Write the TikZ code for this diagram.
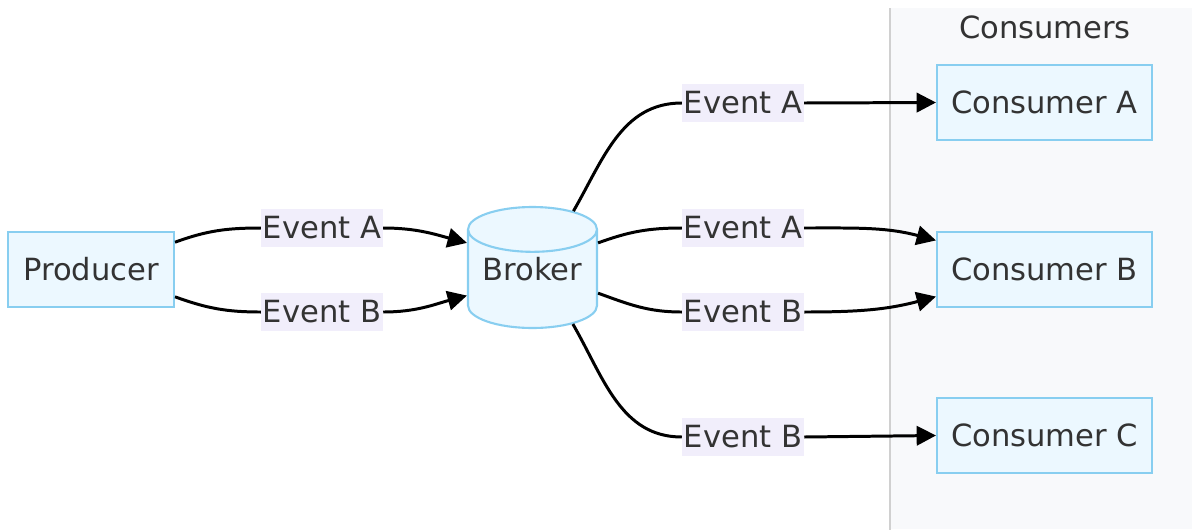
\documentclass[tikz,border=0pt]{standalone}
\usepackage{fontspec}
\setmainfont{DejaVu Sans}
\usetikzlibrary{arrows.meta,positioning,shapes.geometric}
\definecolor{boxfill}{HTML}{ECF8FF}
\definecolor{boxline}{HTML}{88CEF0}
\definecolor{lblfill}{HTML}{F1EEFB}
\definecolor{grpfill}{HTML}{F8F9FB}
\definecolor{grpline}{HTML}{D0D0D0}
\definecolor{txtc}{HTML}{333333}

\begin{document}
\begin{tikzpicture}[x=0.02cm,y=0.02cm,
  font=\fontsize{17.4}{21}\selectfont,
  svc/.style={draw=boxline,fill=boxfill,line width=1.2pt,text=txtc,
              minimum height=1.5cm,inner sep=0pt},
  lbl/.style={fill=lblfill,text=txtc,inner xsep=1pt,inner ysep=0pt,
              minimum height=0.76cm},
  ln/.style={line width=1.7pt,black},
  ar/.style={ln,-{Triangle[length=11pt,width=11pt]}},
]
\useasboundingbox (0,0) rectangle (1192,529);

% consumers group
\node[fill=grpfill,minimum width=6.04cm,minimum height=10.42cm,inner sep=0pt,
      anchor=north west] (grp) at (890,521) {};
\draw[grpline,line width=1.1pt] (grp.south west) -- (grp.north west);
\node[text=txtc] (title) at (1045,502) {Consumers};

\node[svc,minimum width=3.32cm] (prod) at (91,259.5) {Producer};
\node[cylinder,shape border rotate=90,aspect=0.45,draw=boxline,fill=boxfill,
      line width=1.2pt,text=txtc,minimum width=2.58cm,minimum height=2.42cm,
      inner sep=0pt,text depth=0.4cm,anchor=shape center] (broker)
  at (532.5,261.5) {Broker};

\node[svc,minimum width=4.3cm] (consA) at (1044.5,426.5) {Consumer A};
\node[svc,minimum width=4.3cm] (consB) at (1044.5,259.5) {Consumer B};
\node[svc,minimum width=4.3cm] (consC) at (1044.5,93.5) {Consumer C};

% edge labels
\node[lbl] (pa) at (322,301) {Event A};
\node[lbl] (pb) at (322,217) {Event B};
\node[lbl] (ca) at (743,426) {Event A};
\node[lbl] (cba) at (743,301) {Event A};
\node[lbl] (cbb) at (743,217) {Event B};
\node[lbl] (ccb) at (743,92) {Event B};

\draw[ln] (prod.18) to[out=20,in=180] (pa.west);
\draw[ar] (pa.east) to[out=0,in=165] (broker.151);
\draw[ln] (prod.-18) to[out=-20,in=180] (pb.west);
\draw[ar] (pb.east) to[out=0,in=-165] (broker.-166);

\draw[ln] (broker.59) to[out=60,in=180] (ca.west);
\draw[ar] (ca.east) -- (consA.west);
\draw[ln] (broker.29) to[out=20,in=180] (cba.west);
\draw[ar] (cba.east) to[out=0,in=165] (consB.165);
\draw[ln] (broker.-12) to[out=-20,in=180] (cbb.west);
\draw[ar] (cbb.east) to[out=0,in=-165] (consB.-166);
\draw[ln] (broker.-48) to[out=-60,in=180] (ccb.west);
\draw[ar] (ccb.east) -- (consC.west);
\end{tikzpicture}
\end{document}
